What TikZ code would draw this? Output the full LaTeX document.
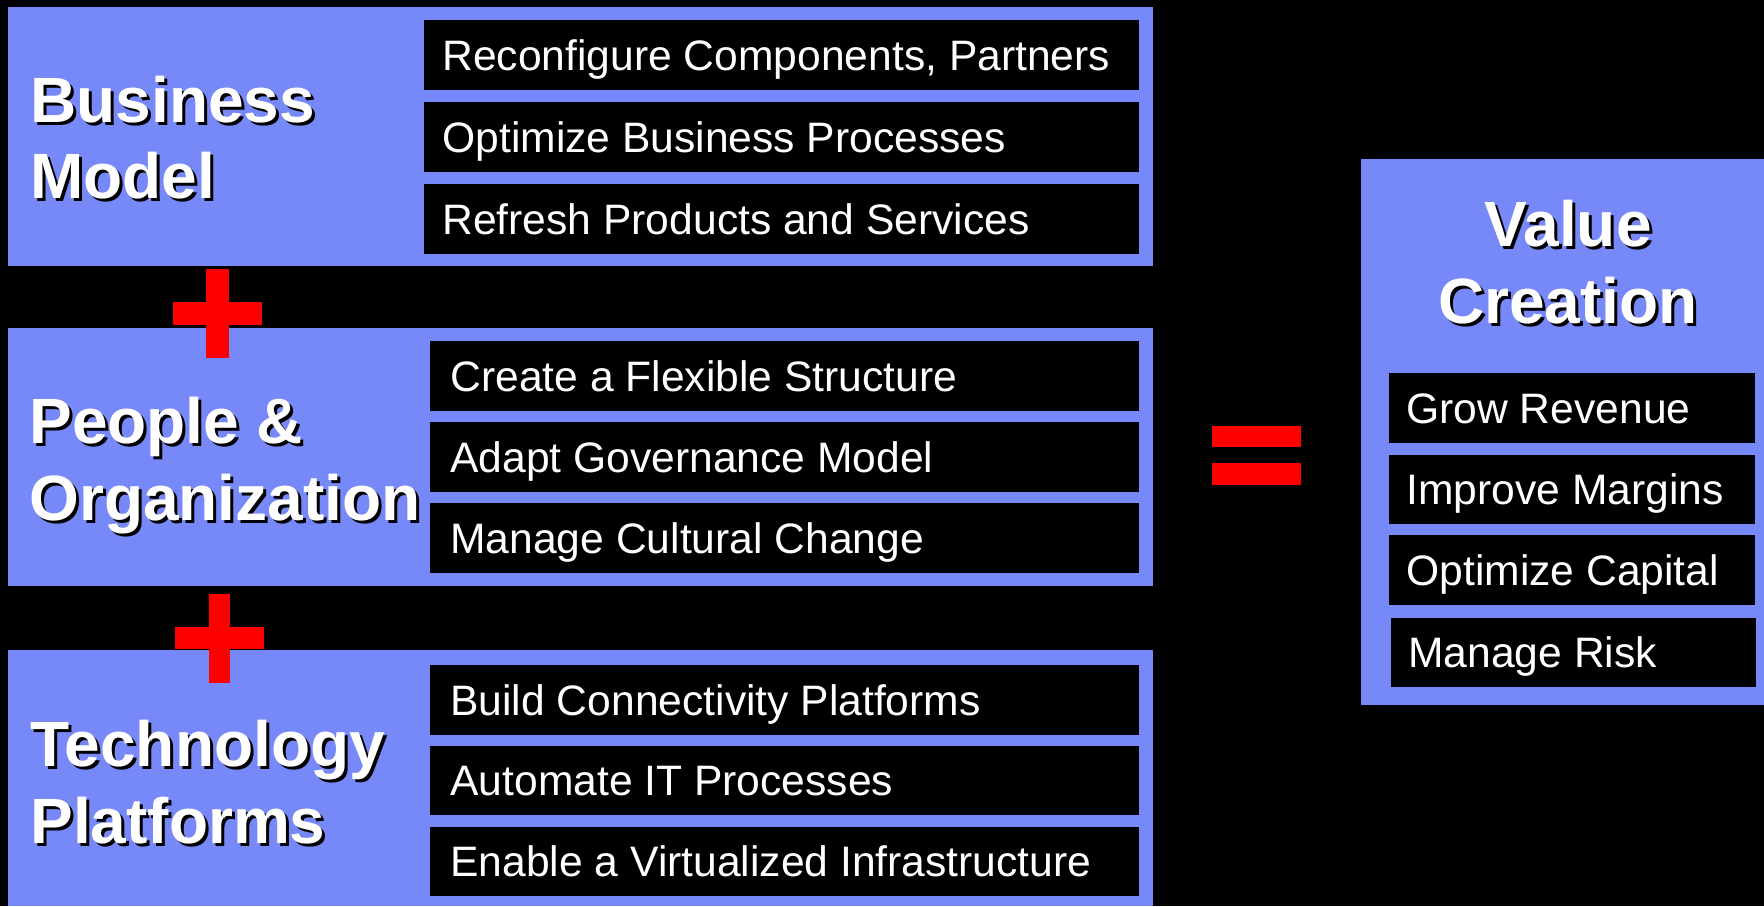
\documentclass[tikz,border=0pt]{standalone}
\usepackage{fontspec}
\setmainfont{Liberation Sans}
\definecolor{panelblue}{RGB}{119,136,248}
\definecolor{signred}{RGB}{255,0,0}

% one drawing unit = one pixel
\newlength\pxl
\setlength\pxl{0.5pt}

% white heading text with a black drop shadow
\newcommand\shadowed[1]{\makebox[0pt][l]{\kern3\pxl\raisebox{-3\pxl}{\color{black}#1}}#1}

% a filled block given by its corners: name, style, x1, y1, x2, y2
\newcommand\slab[6]{%
  \node[#2, anchor=north west, minimum width={(#5-#3)*\pxl},
        minimum height={(#6-#4)*\pxl}] (#1) at (#3,#4) {};}

% a black task bar with its label: name, x1, y1, x2, y2, padding, text
\newcommand\task[7]{%
  \slab{#1}{taskbar}{#2}{#3}{#4}{#5}%
  \node[tasktext, anchor=west] (#1-t) at ([xshift=#6*\pxl]#1.west) {#7};}

\tikzset{
  block/.style={inner sep=0pt, outer sep=0pt, draw=none},
  panel/.style={block, fill=panelblue},
  taskbar/.style={block, fill=black},
  redbar/.style={block, fill=signred},
  tasktext/.style={inner sep=0pt, text=white, font=\fontsize{21.3}{25}\selectfont,
                   text height=15.2pt, text depth=0pt},
  heading/.style={inner sep=0pt, text=white, font=\fontsize{32}{38}\selectfont\bfseries}
}

\begin{document}
\begin{tikzpicture}[x=0.5pt,y=-0.5pt]
  \fill[black] (0,0) rectangle (1764,906);
  \useasboundingbox (0,0) rectangle (1764,906);

  % --- Business Model ---
  \slab{bm}{panel}{8}{7}{1153}{266}
  \node[heading, anchor=base west] (bm-l1) at (30,122) {\shadowed{Business}};
  \node[heading, anchor=base west] (bm-l2) at (30,198) {\shadowed{Model}};
  \task{bm1}{424}{20}{1139}{90}{18}{Reconfigure Components, Partners}
  \task{bm2}{424}{102}{1139}{172}{18}{Optimize Business Processes}
  \task{bm3}{424}{184}{1139}{254}{18}{Refresh Products and Services}

  % --- People & Organization ---
  \slab{po}{panel}{8}{328}{1153}{586}
  \node[heading, anchor=base west] (po-l1) at (29,443) {\shadowed{People \&}};
  \node[heading, anchor=base west] (po-l2) at (29,520) {\shadowed{Organization}};
  \task{po1}{430}{341}{1139}{411}{20}{Create a Flexible Structure}
  \task{po2}{430}{422}{1139}{492}{20}{Adapt Governance Model}
  \task{po3}{430}{503}{1139}{573}{20}{Manage Cultural Change}

  % --- Technology Platforms ---
  \slab{tp}{panel}{8}{650}{1153}{906}
  \node[heading, anchor=base west] (tp-l1) at (30,766) {\shadowed{Technology}};
  \node[heading, anchor=base west] (tp-l2) at (30,843) {\shadowed{Platforms}};
  \task{tp1}{430}{665}{1139}{735}{20}{Build Connectivity Platforms}
  \task{tp2}{430}{746}{1139}{815}{20}{Automate IT Processes}
  \task{tp3}{430}{827}{1139}{896}{20}{Enable a Virtualized Infrastructure}

  % --- Value Creation ---
  \slab{vc}{panel}{1361}{159}{1764}{705}
  \node[heading, anchor=base] (vc-l1) at (1568,246) {\shadowed{Value}};
  \node[heading, anchor=base] (vc-l2) at (1568,323) {\shadowed{Creation}};
  \task{vc1}{1389}{373}{1755}{443}{17}{Grow Revenue}
  \task{vc2}{1389}{455}{1755}{524}{17}{Improve Margins}
  \task{vc3}{1389}{535}{1755}{605}{17}{Optimize Capital}
  \task{vc4}{1391}{618}{1756}{687}{17}{Manage Risk}

  % --- plus signs between the panels ---
  \slab{plusA-v}{redbar}{206}{269}{229}{358}
  \slab{plusA-h}{redbar}{173}{302}{262}{325}
  \slab{plusB-v}{redbar}{209}{594}{230}{683}
  \slab{plusB-h}{redbar}{175}{627}{264}{649}

  % --- equals sign ---
  \slab{eq-top}{redbar}{1212}{426}{1301}{447}
  \slab{eq-bot}{redbar}{1212}{463}{1301}{485}
\end{tikzpicture}
\end{document}
